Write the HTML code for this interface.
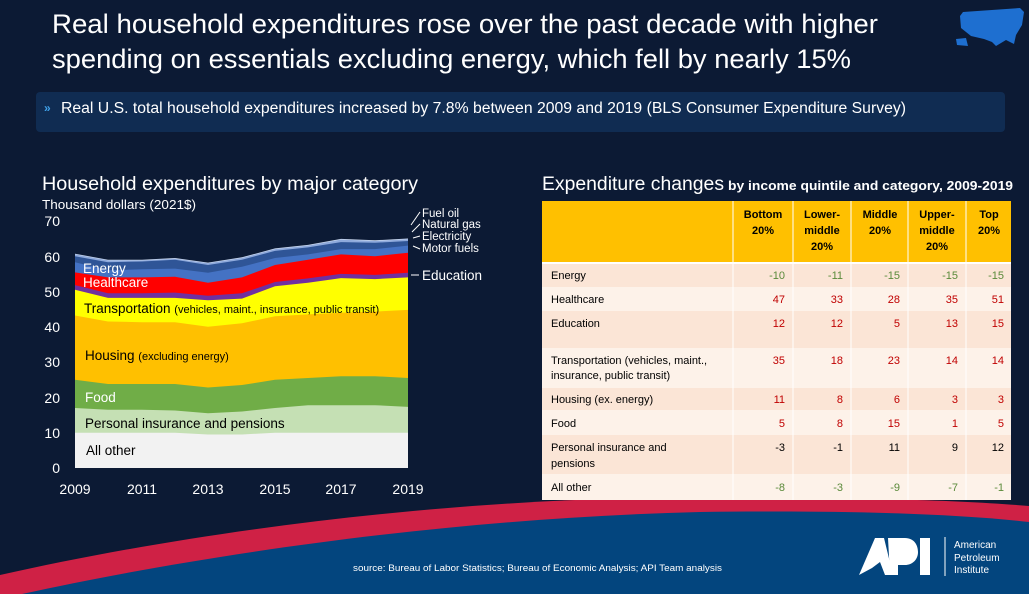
<!DOCTYPE html>
<html><head><meta charset="utf-8"><style>
body{margin:0;background:#0c1a34;}
svg{display:block;font-family:"Liberation Sans",sans-serif;}
</style></head><body>
<svg width="1029" height="594" viewBox="0 0 1029 594" xmlns="http://www.w3.org/2000/svg">
<rect width="1029" height="594" fill="#0c1a34"/>
<!-- swoosh -->
<path d="M0,575 C200,530 450,498 700,497 C850,497 960,500 1029,506 L1029,594 L0,594 Z" fill="#cf2145"/>
<path d="M22,594 C200,555 450,518 700,512 C850,510 960,514 1029,522 L1029,594 Z" fill="#03457e"/>
<!-- US map -->
<path d="M963,12 L1020,8 L1024,12 L1022,25 L1016,35 L1014,44 L1006,40 L996,46 L992,42 L984,39 L971,36 L961,28 L960,16 Z" fill="#1e6fd0"/>
<path d="M956,39 L966,38 L968,46 L957,45 Z" fill="#1e6fd0"/>
<!-- title -->
<text x="52" y="33" font-size="27" fill="#fff" textLength="826" lengthAdjust="spacingAndGlyphs">Real household expenditures rose over the past decade with higher</text>
<text x="52" y="68" font-size="27" fill="#fff" textLength="799" lengthAdjust="spacingAndGlyphs">spending on essentials excluding energy, which fell by nearly 15%</text>
<rect x="36" y="92" width="969" height="40" rx="4" fill="#102c52"/>
<text x="44" y="112" font-size="12" fill="#3fa0e8" font-weight="bold">»</text>
<text x="61" y="113" font-size="15.5" fill="#fff" textLength="845" lengthAdjust="spacingAndGlyphs">Real U.S. total household expenditures increased by 7.8% between 2009 and 2019 (BLS Consumer Expenditure Survey)</text>
<!-- left chart titles -->
<text x="42" y="190" font-size="19" fill="#fff" textLength="376" lengthAdjust="spacingAndGlyphs">Household expenditures by major category</text>
<text x="42" y="209" font-size="13" fill="#fff" textLength="154" lengthAdjust="spacingAndGlyphs">Thousand dollars (2021$)</text>
<!-- y ticks -->
<g font-size="14" fill="#fff" text-anchor="end">
<text x="60" y="473">0</text><text x="60" y="438">10</text><text x="60" y="403">20</text><text x="60" y="367">30</text><text x="60" y="332">40</text><text x="60" y="297">50</text><text x="60" y="262">60</text><text x="60" y="226">70</text>
</g>
<g font-size="14" fill="#fff" text-anchor="middle">
<text x="75" y="494">2009</text><text x="142" y="494">2011</text><text x="208" y="494">2013</text><text x="275" y="494">2015</text><text x="341" y="494">2017</text><text x="408" y="494">2019</text>
</g>
<!-- areas -->
<g>
<polygon fill="#c9d7ee" points="75,253.7 108,259.7 142,259.7 175,258 208,262.6 242,257.3 275,248.4 308,244.9 341,238.9 375,240.3 408,238.5 408,468 75,468"/>
<polygon fill="#8faadc" points="75,254.4 108,260.4 142,260.4 175,258.7 208,263.3 242,258 275,249.1 308,245.6 341,239.6 375,241 408,239.3 408,468 75,468"/>
<polygon fill="#2f5597" points="75,256.2 108,262.2 142,261.5 175,259.7 208,265 242,259.7 275,250.9 308,247.4 341,242.1 375,242.8 408,241 408,468 75,468"/>
<polygon fill="#4472c4" points="75,262.2 108,270.3 142,269.3 175,268.6 208,272.8 242,266.8 275,258 308,254.4 341,249.1 375,249.1 408,245.6 408,468 75,468"/>
<polygon fill="#ff0000" points="75,272.4 108,277.4 142,277.4 175,276.7 208,282.7 242,277.4 275,265 308,259.7 341,254.4 375,256.2 408,252.7 408,468 75,468"/>
<polygon fill="#7030a0" points="75,285.1 108,293.3 142,293.3 175,292.6 208,295.7 242,293.3 275,282 308,278.4 341,273.9 375,274.9 408,272.8 408,468 75,468"/>
<polygon fill="#ffff00" points="75,289.7 108,297.9 142,297.9 175,297.9 208,300.3 242,298.6 275,286.2 308,282.7 341,278.1 375,279.1 408,277.4 408,468 75,468"/>
<polygon fill="#ffc000" points="75,315.5 108,321.5 142,322.2 175,322.2 208,326.8 242,323.3 275,316.2 308,314.4 341,312.7 375,311.6 408,309.9 408,468 75,468"/>
<polygon fill="#70ad47" points="75,379.8 108,384 142,384 175,384 208,387.5 242,385 275,379.8 308,378 341,376.2 375,376.2 408,378 408,468 75,468"/>
<polygon fill="#c5e0b4" points="75,408 108,409.8 142,409.8 175,410.5 208,413.3 242,411.5 275,408 308,405.2 341,405.2 375,405.2 408,406.9 408,468 75,468"/>
<polygon fill="#f2f2f2" points="75,432.7 108,432.7 142,432.7 175,432.7 208,434.5 242,434.5 275,432.7 308,432.7 341,432.7 375,432.7 408,432.7 408,468 75,468"/>
</g>
<!-- area labels -->
<text x="83" y="273" font-size="13.5" fill="#fff">Energy</text>
<text x="83" y="287" font-size="13.5" fill="#fff">Healthcare</text>
<text x="84" y="313" font-size="13.5" fill="#000">Transportation <tspan font-size="11">(vehicles, maint., insurance, public transit)</tspan></text>
<text x="85" y="360" font-size="13.5" fill="#000">Housing <tspan font-size="11">(excluding energy)</tspan></text>
<text x="85" y="402" font-size="13.5" fill="#fff">Food</text>
<text x="85" y="428" font-size="13.5" fill="#000">Personal insurance and pensions</text>
<text x="86" y="455" font-size="13.5" fill="#000">All other</text>
<!-- right labels -->
<g font-size="11.5" fill="#fff">
<text x="422" y="217">Fuel oil</text>
<text x="422" y="228">Natural gas</text>
<text x="422" y="240">Electricity</text>
<text x="422" y="252">Motor fuels</text>
<text x="422" y="280" font-size="13.5">Education</text>
</g>
<g stroke="#fff" stroke-width="1" fill="none">
<line x1="420" y1="212" x2="411" y2="225"/><line x1="420" y1="224" x2="412" y2="232"/><line x1="420" y1="236" x2="413" y2="238"/><line x1="420" y1="249" x2="413" y2="246"/><line x1="419" y1="275" x2="411" y2="275"/>
</g>
<!-- table -->
<text x="542" y="190" font-size="19" fill="#fff" textLength="182" lengthAdjust="spacingAndGlyphs">Expenditure changes</text>
<text x="728" y="190" font-size="13" fill="#fff" font-weight="bold" textLength="285" lengthAdjust="spacingAndGlyphs">by income quintile and category, 2009-2019</text>
<rect x="542" y="201" width="469" height="61" fill="#ffc000"/>
<g fill="#fbe5d6">
<rect x="542" y="264" width="469" height="23"/>
<rect x="542" y="311" width="469" height="37" fill="#fbe5d6"/>
<rect x="542" y="388" width="469" height="22"/>
<rect x="542" y="435" width="469" height="39"/>
</g>
<g fill="#fdf2e9">
<rect x="542" y="287" width="469" height="24"/>
<rect x="542" y="348" width="469" height="40"/>
<rect x="542" y="410" width="469" height="25"/>
<rect x="542" y="474" width="469" height="26"/>
</g>
<g stroke="#fff" stroke-width="1">
<line x1="733" y1="201" x2="733" y2="500"/><line x1="793" y1="201" x2="793" y2="500"/><line x1="851" y1="201" x2="851" y2="500"/><line x1="908" y1="201" x2="908" y2="500"/><line x1="966" y1="201" x2="966" y2="500"/>
<line x1="542" y1="263" x2="1011" y2="263" stroke-width="2"/>
</g>
<g font-size="11" font-weight="bold" fill="#000" text-anchor="middle">
<text x="763" y="218">Bottom</text><text x="763" y="234">20%</text>
<text x="822" y="218">Lower-</text><text x="822" y="234">middle</text><text x="822" y="250">20%</text>
<text x="880" y="218">Middle</text><text x="880" y="234">20%</text>
<text x="937" y="218">Upper-</text><text x="937" y="234">middle</text><text x="937" y="250">20%</text>
<text x="989" y="218">Top</text><text x="989" y="234">20%</text>
</g>
<g font-size="11" fill="#000">
<text x="551" y="279">Energy</text>
<text x="551" y="303">Healthcare</text>
<text x="551" y="327">Education</text>
<text x="551" y="364">Transportation (vehicles, maint.,</text>
<text x="551" y="379">insurance, public transit)</text>
<text x="551" y="403">Housing (ex. energy)</text>
<text x="551" y="427">Food</text>
<text x="551" y="451">Personal insurance and</text>
<text x="551" y="467">pensions</text>
<text x="551" y="491">All other</text>
</g>
<g font-size="11" text-anchor="end">
<g fill="#5a8a3a"><text x="785" y="279">-10</text><text x="843" y="279">-11</text><text x="900" y="279">-15</text><text x="958" y="279">-15</text><text x="1004" y="279">-15</text>
<text x="785" y="491">-8</text><text x="843" y="491">-3</text><text x="900" y="491">-9</text><text x="958" y="491">-7</text><text x="1004" y="491">-1</text></g>
<g fill="#c00000">
<text x="785" y="303">47</text><text x="843" y="303">33</text><text x="900" y="303">28</text><text x="958" y="303">35</text><text x="1004" y="303">51</text>
<text x="785" y="327">12</text><text x="843" y="327">12</text><text x="900" y="327">5</text><text x="958" y="327">13</text><text x="1004" y="327">15</text>
<text x="785" y="364">35</text><text x="843" y="364">18</text><text x="900" y="364">23</text><text x="958" y="364">14</text><text x="1004" y="364">14</text>
<text x="785" y="403">11</text><text x="843" y="403">8</text><text x="900" y="403">6</text><text x="958" y="403">3</text><text x="1004" y="403">3</text>
<text x="785" y="427">5</text><text x="843" y="427">8</text><text x="900" y="427">15</text><text x="958" y="427">1</text><text x="1004" y="427">5</text></g>
<g fill="#000"><text x="785" y="451">-3</text><text x="843" y="451">-1</text><text x="900" y="451">11</text><text x="958" y="451">9</text><text x="1004" y="451">12</text></g>
</g>
<!-- footer -->
<text x="353" y="571" font-size="9" fill="#fff" textLength="369" lengthAdjust="spacingAndGlyphs">source: Bureau of Labor Statistics; Bureau of Economic Analysis; API Team analysis</text>
<g fill="#fff">
<polygon points="859,575 875,538 884,538 893,575 885,575 880,562 872,568"/>
<path d="M888,538 L905,538 C914,538 918,545 918,552 C918,560 912,565 905,565 L898,565 L898,575 L890,575 Z"/>
<rect x="920" y="538" width="10" height="37"/>
</g>
<line x1="945" y1="537" x2="945" y2="576" stroke="#fff" stroke-width="1"/>
<g font-size="10" fill="#fff"><text x="954" y="548">American</text><text x="954" y="561">Petroleum</text><text x="954" y="573">Institute</text></g>
</svg>
</body></html>
